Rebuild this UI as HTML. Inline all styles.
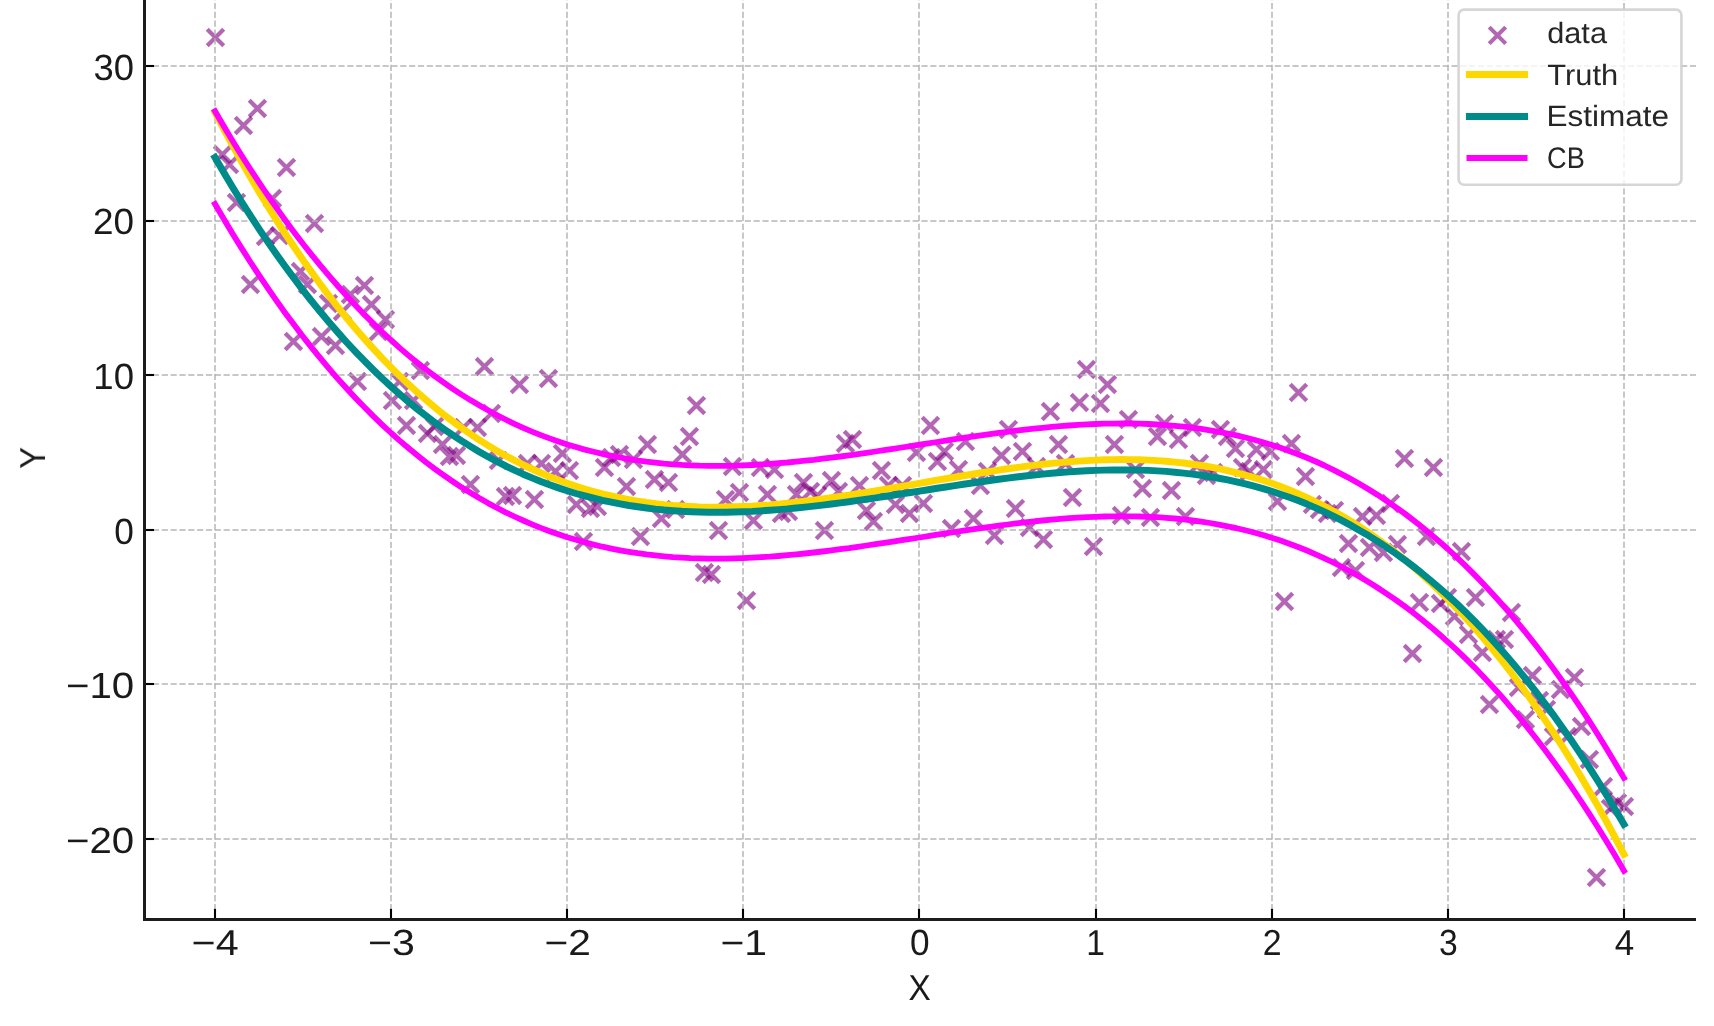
<!DOCTYPE html>
<html lang="en"><head><meta charset="utf-8"><title>Truth, Estimate and CB</title>
<style>html,body{margin:0;padding:0;background:#ffffff;}body{width:1714px;height:1026px;overflow:hidden;}svg{display:block;}text{font-family:"Liberation Sans",sans-serif;text-rendering:geometricPrecision;}</style></head><body>
<svg width="1714" height="1026" viewBox="0 0 1714 1026" role="img" aria-label="Scatter data with Truth, Estimate and CB curves">
<rect x="0" y="0" width="1714" height="1026" fill="#ffffff"/>
<g stroke="#800080" stroke-opacity="0.6" stroke-width="4.17" fill="none" stroke-linecap="butt"><path d="M207.2 29.2l16.5 16.5m0 -16.5l-16.5 16.5"/><path d="M214.2 146.2l16.5 16.5m0 -16.5l-16.5 16.5"/><path d="M221.2 156.2l16.5 16.5m0 -16.5l-16.5 16.5"/><path d="M228.2 194.2l16.5 16.5m0 -16.5l-16.5 16.5"/><path d="M235.2 117.2l16.5 16.5m0 -16.5l-16.5 16.5"/><path d="M242.2 276.2l16.5 16.5m0 -16.5l-16.5 16.5"/><path d="M249.2 100.2l16.5 16.5m0 -16.5l-16.5 16.5"/><path d="M257.2 228.2l16.5 16.5m0 -16.5l-16.5 16.5"/><path d="M264.2 190.2l16.5 16.5m0 -16.5l-16.5 16.5"/><path d="M271.2 227.2l16.5 16.5m0 -16.5l-16.5 16.5"/><path d="M278.2 159.2l16.5 16.5m0 -16.5l-16.5 16.5"/><path d="M285.2 333.2l16.5 16.5m0 -16.5l-16.5 16.5"/><path d="M292.2 263.2l16.5 16.5m0 -16.5l-16.5 16.5"/><path d="M299.2 276.2l16.5 16.5m0 -16.5l-16.5 16.5"/><path d="M306.2 215.2l16.5 16.5m0 -16.5l-16.5 16.5"/><path d="M313.2 328.2l16.5 16.5m0 -16.5l-16.5 16.5"/><path d="M320.2 295.2l16.5 16.5m0 -16.5l-16.5 16.5"/><path d="M327.2 337.2l16.5 16.5m0 -16.5l-16.5 16.5"/><path d="M334.2 303.2l16.5 16.5m0 -16.5l-16.5 16.5"/><path d="M342.2 286.2l16.5 16.5m0 -16.5l-16.5 16.5"/><path d="M349.2 373.2l16.5 16.5m0 -16.5l-16.5 16.5"/><path d="M356.2 277.2l16.5 16.5m0 -16.5l-16.5 16.5"/><path d="M363.2 296.2l16.5 16.5m0 -16.5l-16.5 16.5"/><path d="M370.2 323.2l16.5 16.5m0 -16.5l-16.5 16.5"/><path d="M377.2 311.2l16.5 16.5m0 -16.5l-16.5 16.5"/><path d="M384.2 392.2l16.5 16.5m0 -16.5l-16.5 16.5"/><path d="M391.2 373.2l16.5 16.5m0 -16.5l-16.5 16.5"/><path d="M398.2 417.2l16.5 16.5m0 -16.5l-16.5 16.5"/><path d="M405.2 392.2l16.5 16.5m0 -16.5l-16.5 16.5"/><path d="M412.2 362.2l16.5 16.5m0 -16.5l-16.5 16.5"/><path d="M419.2 425.2l16.5 16.5m0 -16.5l-16.5 16.5"/><path d="M426.2 418.2l16.5 16.5m0 -16.5l-16.5 16.5"/><path d="M434.2 436.2l16.5 16.5m0 -16.5l-16.5 16.5"/><path d="M441.2 448.2l16.5 16.5m0 -16.5l-16.5 16.5"/><path d="M448.2 447.2l16.5 16.5m0 -16.5l-16.5 16.5"/><path d="M455.2 419.2l16.5 16.5m0 -16.5l-16.5 16.5"/><path d="M462.2 476.2l16.5 16.5m0 -16.5l-16.5 16.5"/><path d="M469.2 419.2l16.5 16.5m0 -16.5l-16.5 16.5"/><path d="M476.2 358.2l16.5 16.5m0 -16.5l-16.5 16.5"/><path d="M483.2 405.2l16.5 16.5m0 -16.5l-16.5 16.5"/><path d="M490.2 452.2l16.5 16.5m0 -16.5l-16.5 16.5"/><path d="M497.2 488.2l16.5 16.5m0 -16.5l-16.5 16.5"/><path d="M504.2 487.2l16.5 16.5m0 -16.5l-16.5 16.5"/><path d="M511.2 376.2l16.5 16.5m0 -16.5l-16.5 16.5"/><path d="M519.2 455.2l16.5 16.5m0 -16.5l-16.5 16.5"/><path d="M526.2 491.2l16.5 16.5m0 -16.5l-16.5 16.5"/><path d="M533.2 455.2l16.5 16.5m0 -16.5l-16.5 16.5"/><path d="M540.2 370.2l16.5 16.5m0 -16.5l-16.5 16.5"/><path d="M547.2 463.2l16.5 16.5m0 -16.5l-16.5 16.5"/><path d="M554.2 445.2l16.5 16.5m0 -16.5l-16.5 16.5"/><path d="M561.2 462.2l16.5 16.5m0 -16.5l-16.5 16.5"/><path d="M568.2 496.2l16.5 16.5m0 -16.5l-16.5 16.5"/><path d="M575.2 533.2l16.5 16.5m0 -16.5l-16.5 16.5"/><path d="M582.2 500.2l16.5 16.5m0 -16.5l-16.5 16.5"/><path d="M589.2 498.2l16.5 16.5m0 -16.5l-16.5 16.5"/><path d="M596.2 459.2l16.5 16.5m0 -16.5l-16.5 16.5"/><path d="M603.2 449.2l16.5 16.5m0 -16.5l-16.5 16.5"/><path d="M611.2 446.2l16.5 16.5m0 -16.5l-16.5 16.5"/><path d="M618.2 478.2l16.5 16.5m0 -16.5l-16.5 16.5"/><path d="M625.2 451.2l16.5 16.5m0 -16.5l-16.5 16.5"/><path d="M632.2 528.2l16.5 16.5m0 -16.5l-16.5 16.5"/><path d="M639.2 436.2l16.5 16.5m0 -16.5l-16.5 16.5"/><path d="M646.2 471.2l16.5 16.5m0 -16.5l-16.5 16.5"/><path d="M653.2 510.2l16.5 16.5m0 -16.5l-16.5 16.5"/><path d="M660.2 474.2l16.5 16.5m0 -16.5l-16.5 16.5"/><path d="M667.2 501.2l16.5 16.5m0 -16.5l-16.5 16.5"/><path d="M674.2 446.2l16.5 16.5m0 -16.5l-16.5 16.5"/><path d="M681.2 428.2l16.5 16.5m0 -16.5l-16.5 16.5"/><path d="M688.2 397.2l16.5 16.5m0 -16.5l-16.5 16.5"/><path d="M696.2 564.2l16.5 16.5m0 -16.5l-16.5 16.5"/><path d="M703.2 566.2l16.5 16.5m0 -16.5l-16.5 16.5"/><path d="M710.2 522.2l16.5 16.5m0 -16.5l-16.5 16.5"/><path d="M717.2 491.2l16.5 16.5m0 -16.5l-16.5 16.5"/><path d="M724.2 458.2l16.5 16.5m0 -16.5l-16.5 16.5"/><path d="M731.2 484.2l16.5 16.5m0 -16.5l-16.5 16.5"/><path d="M738.2 592.2l16.5 16.5m0 -16.5l-16.5 16.5"/><path d="M745.2 512.2l16.5 16.5m0 -16.5l-16.5 16.5"/><path d="M752.2 459.2l16.5 16.5m0 -16.5l-16.5 16.5"/><path d="M759.2 486.2l16.5 16.5m0 -16.5l-16.5 16.5"/><path d="M766.2 461.2l16.5 16.5m0 -16.5l-16.5 16.5"/><path d="M773.2 505.2l16.5 16.5m0 -16.5l-16.5 16.5"/><path d="M780.2 503.2l16.5 16.5m0 -16.5l-16.5 16.5"/><path d="M788.2 486.2l16.5 16.5m0 -16.5l-16.5 16.5"/><path d="M795.2 474.2l16.5 16.5m0 -16.5l-16.5 16.5"/><path d="M802.2 483.2l16.5 16.5m0 -16.5l-16.5 16.5"/><path d="M809.2 487.2l16.5 16.5m0 -16.5l-16.5 16.5"/><path d="M816.2 522.2l16.5 16.5m0 -16.5l-16.5 16.5"/><path d="M823.2 472.2l16.5 16.5m0 -16.5l-16.5 16.5"/><path d="M830.2 483.2l16.5 16.5m0 -16.5l-16.5 16.5"/><path d="M837.2 435.2l16.5 16.5m0 -16.5l-16.5 16.5"/><path d="M844.2 431.2l16.5 16.5m0 -16.5l-16.5 16.5"/><path d="M851.2 477.2l16.5 16.5m0 -16.5l-16.5 16.5"/><path d="M858.2 502.2l16.5 16.5m0 -16.5l-16.5 16.5"/><path d="M865.2 513.2l16.5 16.5m0 -16.5l-16.5 16.5"/><path d="M873.2 462.2l16.5 16.5m0 -16.5l-16.5 16.5"/><path d="M880.2 477.2l16.5 16.5m0 -16.5l-16.5 16.5"/><path d="M887.2 496.2l16.5 16.5m0 -16.5l-16.5 16.5"/><path d="M894.2 477.2l16.5 16.5m0 -16.5l-16.5 16.5"/><path d="M901.2 505.2l16.5 16.5m0 -16.5l-16.5 16.5"/><path d="M908.2 444.2l16.5 16.5m0 -16.5l-16.5 16.5"/><path d="M915.2 495.2l16.5 16.5m0 -16.5l-16.5 16.5"/><path d="M922.2 417.2l16.5 16.5m0 -16.5l-16.5 16.5"/><path d="M929.2 453.2l16.5 16.5m0 -16.5l-16.5 16.5"/><path d="M936.2 443.2l16.5 16.5m0 -16.5l-16.5 16.5"/><path d="M943.2 520.2l16.5 16.5m0 -16.5l-16.5 16.5"/><path d="M950.2 461.2l16.5 16.5m0 -16.5l-16.5 16.5"/><path d="M957.2 433.2l16.5 16.5m0 -16.5l-16.5 16.5"/><path d="M965.2 510.2l16.5 16.5m0 -16.5l-16.5 16.5"/><path d="M972.2 477.2l16.5 16.5m0 -16.5l-16.5 16.5"/><path d="M979.2 463.2l16.5 16.5m0 -16.5l-16.5 16.5"/><path d="M986.2 527.2l16.5 16.5m0 -16.5l-16.5 16.5"/><path d="M993.2 447.2l16.5 16.5m0 -16.5l-16.5 16.5"/><path d="M1000.2 421.2l16.5 16.5m0 -16.5l-16.5 16.5"/><path d="M1007.2 500.2l16.5 16.5m0 -16.5l-16.5 16.5"/><path d="M1014.2 443.2l16.5 16.5m0 -16.5l-16.5 16.5"/><path d="M1021.2 519.2l16.5 16.5m0 -16.5l-16.5 16.5"/><path d="M1028.2 458.2l16.5 16.5m0 -16.5l-16.5 16.5"/><path d="M1035.2 531.2l16.5 16.5m0 -16.5l-16.5 16.5"/><path d="M1042.2 403.2l16.5 16.5m0 -16.5l-16.5 16.5"/><path d="M1050.2 436.2l16.5 16.5m0 -16.5l-16.5 16.5"/><path d="M1057.2 455.2l16.5 16.5m0 -16.5l-16.5 16.5"/><path d="M1064.2 489.2l16.5 16.5m0 -16.5l-16.5 16.5"/><path d="M1071.2 394.2l16.5 16.5m0 -16.5l-16.5 16.5"/><path d="M1078.2 361.2l16.5 16.5m0 -16.5l-16.5 16.5"/><path d="M1085.2 538.2l16.5 16.5m0 -16.5l-16.5 16.5"/><path d="M1092.2 395.2l16.5 16.5m0 -16.5l-16.5 16.5"/><path d="M1099.2 376.2l16.5 16.5m0 -16.5l-16.5 16.5"/><path d="M1106.2 436.2l16.5 16.5m0 -16.5l-16.5 16.5"/><path d="M1113.2 507.2l16.5 16.5m0 -16.5l-16.5 16.5"/><path d="M1120.2 411.2l16.5 16.5m0 -16.5l-16.5 16.5"/><path d="M1127.2 461.2l16.5 16.5m0 -16.5l-16.5 16.5"/><path d="M1134.2 480.2l16.5 16.5m0 -16.5l-16.5 16.5"/><path d="M1142.2 509.2l16.5 16.5m0 -16.5l-16.5 16.5"/><path d="M1149.2 428.2l16.5 16.5m0 -16.5l-16.5 16.5"/><path d="M1156.2 415.2l16.5 16.5m0 -16.5l-16.5 16.5"/><path d="M1163.2 482.2l16.5 16.5m0 -16.5l-16.5 16.5"/><path d="M1170.2 431.2l16.5 16.5m0 -16.5l-16.5 16.5"/><path d="M1177.2 508.2l16.5 16.5m0 -16.5l-16.5 16.5"/><path d="M1184.2 419.2l16.5 16.5m0 -16.5l-16.5 16.5"/><path d="M1191.2 455.2l16.5 16.5m0 -16.5l-16.5 16.5"/><path d="M1198.2 467.2l16.5 16.5m0 -16.5l-16.5 16.5"/><path d="M1205.2 464.2l16.5 16.5m0 -16.5l-16.5 16.5"/><path d="M1212.2 421.2l16.5 16.5m0 -16.5l-16.5 16.5"/><path d="M1219.2 428.2l16.5 16.5m0 -16.5l-16.5 16.5"/><path d="M1227.2 440.2l16.5 16.5m0 -16.5l-16.5 16.5"/><path d="M1234.2 459.2l16.5 16.5m0 -16.5l-16.5 16.5"/><path d="M1241.2 463.2l16.5 16.5m0 -16.5l-16.5 16.5"/><path d="M1248.2 441.2l16.5 16.5m0 -16.5l-16.5 16.5"/><path d="M1255.2 461.2l16.5 16.5m0 -16.5l-16.5 16.5"/><path d="M1262.2 443.2l16.5 16.5m0 -16.5l-16.5 16.5"/><path d="M1269.2 493.2l16.5 16.5m0 -16.5l-16.5 16.5"/><path d="M1276.2 593.2l16.5 16.5m0 -16.5l-16.5 16.5"/><path d="M1283.2 435.2l16.5 16.5m0 -16.5l-16.5 16.5"/><path d="M1290.2 384.2l16.5 16.5m0 -16.5l-16.5 16.5"/><path d="M1297.2 468.2l16.5 16.5m0 -16.5l-16.5 16.5"/><path d="M1304.2 496.2l16.5 16.5m0 -16.5l-16.5 16.5"/><path d="M1311.2 501.2l16.5 16.5m0 -16.5l-16.5 16.5"/><path d="M1319.2 505.2l16.5 16.5m0 -16.5l-16.5 16.5"/><path d="M1326.2 502.2l16.5 16.5m0 -16.5l-16.5 16.5"/><path d="M1333.2 559.2l16.5 16.5m0 -16.5l-16.5 16.5"/><path d="M1340.2 535.2l16.5 16.5m0 -16.5l-16.5 16.5"/><path d="M1347.2 562.2l16.5 16.5m0 -16.5l-16.5 16.5"/><path d="M1354.2 508.2l16.5 16.5m0 -16.5l-16.5 16.5"/><path d="M1361.2 539.2l16.5 16.5m0 -16.5l-16.5 16.5"/><path d="M1368.2 507.2l16.5 16.5m0 -16.5l-16.5 16.5"/><path d="M1375.2 544.2l16.5 16.5m0 -16.5l-16.5 16.5"/><path d="M1382.2 495.2l16.5 16.5m0 -16.5l-16.5 16.5"/><path d="M1389.2 536.2l16.5 16.5m0 -16.5l-16.5 16.5"/><path d="M1396.2 450.2l16.5 16.5m0 -16.5l-16.5 16.5"/><path d="M1404.2 645.2l16.5 16.5m0 -16.5l-16.5 16.5"/><path d="M1411.2 594.2l16.5 16.5m0 -16.5l-16.5 16.5"/><path d="M1418.2 528.2l16.5 16.5m0 -16.5l-16.5 16.5"/><path d="M1425.2 459.2l16.5 16.5m0 -16.5l-16.5 16.5"/><path d="M1432.2 595.2l16.5 16.5m0 -16.5l-16.5 16.5"/><path d="M1439.2 589.2l16.5 16.5m0 -16.5l-16.5 16.5"/><path d="M1446.2 608.2l16.5 16.5m0 -16.5l-16.5 16.5"/><path d="M1453.2 543.2l16.5 16.5m0 -16.5l-16.5 16.5"/><path d="M1460.2 626.2l16.5 16.5m0 -16.5l-16.5 16.5"/><path d="M1467.2 589.2l16.5 16.5m0 -16.5l-16.5 16.5"/><path d="M1474.2 644.2l16.5 16.5m0 -16.5l-16.5 16.5"/><path d="M1481.2 696.2l16.5 16.5m0 -16.5l-16.5 16.5"/><path d="M1488.2 631.2l16.5 16.5m0 -16.5l-16.5 16.5"/><path d="M1496.2 631.2l16.5 16.5m0 -16.5l-16.5 16.5"/><path d="M1503.2 604.2l16.5 16.5m0 -16.5l-16.5 16.5"/><path d="M1510.2 679.2l16.5 16.5m0 -16.5l-16.5 16.5"/><path d="M1517.2 711.2l16.5 16.5m0 -16.5l-16.5 16.5"/><path d="M1524.2 667.2l16.5 16.5m0 -16.5l-16.5 16.5"/><path d="M1531.2 692.2l16.5 16.5m0 -16.5l-16.5 16.5"/><path d="M1538.2 701.2l16.5 16.5m0 -16.5l-16.5 16.5"/><path d="M1545.2 728.2l16.5 16.5m0 -16.5l-16.5 16.5"/><path d="M1552.2 681.2l16.5 16.5m0 -16.5l-16.5 16.5"/><path d="M1559.2 728.2l16.5 16.5m0 -16.5l-16.5 16.5"/><path d="M1566.2 669.2l16.5 16.5m0 -16.5l-16.5 16.5"/><path d="M1573.2 718.2l16.5 16.5m0 -16.5l-16.5 16.5"/><path d="M1581.2 751.2l16.5 16.5m0 -16.5l-16.5 16.5"/><path d="M1588.2 869.2l16.5 16.5m0 -16.5l-16.5 16.5"/><path d="M1595.2 778.2l16.5 16.5m0 -16.5l-16.5 16.5"/><path d="M1602.2 800.2l16.5 16.5m0 -16.5l-16.5 16.5"/><path d="M1609.2 794.2l16.5 16.5m0 -16.5l-16.5 16.5"/><path d="M1616.2 798.2l16.5 16.5m0 -16.5l-16.5 16.5"/></g>
<g stroke="#b0b0b0" stroke-opacity="0.7" stroke-width="2.0" stroke-dasharray="6.1667 2.6667" fill="none"><path d="M215.00 918.90V-8"/><path d="M391.00 918.90V-8"/><path d="M567.00 918.90V-8"/><path d="M743.00 918.90V-8"/><path d="M919.00 918.90V-8"/><path d="M1096.00 918.90V-8"/><path d="M1272.00 918.90V-8"/><path d="M1448.00 918.90V-8"/><path d="M1624.00 918.90V-8"/><path d="M144.10 839.00H1696.00"/><path d="M144.10 684.00H1696.00"/><path d="M144.10 530.00H1696.00"/><path d="M144.10 375.00H1696.00"/><path d="M144.10 221.00H1696.00"/><path d="M144.10 66.00H1696.00"/></g>
<polyline points="215.0,112.3 223.8,129.1 232.6,145.4 241.4,161.3 250.2,176.7 259.0,191.7 267.8,206.2 276.6,220.3 285.4,234.0 294.3,247.3 303.1,260.2 311.9,272.6 320.7,284.7 329.5,296.3 338.3,307.6 347.1,318.5 355.9,329.0 364.7,339.1 373.5,348.9 382.3,358.3 391.1,367.4 399.9,376.1 408.7,384.5 417.5,392.5 426.3,400.2 435.1,407.6 443.9,414.7 452.8,421.4 461.6,427.9 470.4,434.0 479.2,439.9 488.0,445.4 496.8,450.7 505.6,455.7 514.4,460.4 523.2,464.8 532.0,469.0 540.8,473.0 549.6,476.7 558.4,480.1 567.2,483.3 576.0,486.3 584.8,489.1 593.6,491.6 602.4,493.9 611.3,496.0 620.1,497.9 628.9,499.6 637.7,501.1 646.5,502.5 655.3,503.6 664.1,504.6 672.9,505.4 681.7,506.0 690.5,506.5 699.3,506.9 708.1,507.1 716.9,507.1 725.7,507.0 734.5,506.8 743.3,506.5 752.1,506.1 760.9,505.5 769.8,504.9 778.6,504.1 787.4,503.3 796.2,502.3 805.0,501.3 813.8,500.2 822.6,499.0 831.4,497.8 840.2,496.5 849.0,495.2 857.8,493.8 866.6,492.4 875.4,490.9 884.2,489.4 893.0,487.9 901.8,486.4 910.6,484.9 919.5,483.3 928.3,481.8 937.1,480.2 945.9,478.7 954.7,477.2 963.5,475.7 972.3,474.3 981.1,472.8 989.9,471.5 998.7,470.1 1007.5,468.8 1016.3,467.6 1025.1,466.4 1033.9,465.4 1042.7,464.3 1051.5,463.4 1060.3,462.6 1069.1,461.8 1078.0,461.1 1086.8,460.6 1095.6,460.1 1104.4,459.8 1113.2,459.6 1122.0,459.5 1130.8,459.6 1139.6,459.8 1148.4,460.1 1157.2,460.6 1166.0,461.3 1174.8,462.1 1183.6,463.0 1192.4,464.2 1201.2,465.5 1210.0,467.0 1218.8,468.7 1227.6,470.6 1236.5,472.8 1245.3,475.1 1254.1,477.6 1262.9,480.3 1271.7,483.3 1280.5,486.5 1289.3,490.0 1298.1,493.7 1306.9,497.6 1315.7,501.8 1324.5,506.3 1333.3,511.0 1342.1,516.0 1350.9,521.2 1359.7,526.8 1368.5,532.6 1377.3,538.8 1386.1,545.2 1395.0,552.0 1403.8,559.0 1412.6,566.4 1421.4,574.1 1430.2,582.2 1439.0,590.5 1447.8,599.3 1456.6,608.3 1465.4,617.7 1474.2,627.5 1483.0,637.7 1491.8,648.2 1500.6,659.1 1509.4,670.3 1518.2,682.0 1527.0,694.0 1535.8,706.5 1544.6,719.4 1553.5,732.6 1562.3,746.3 1571.1,760.4 1579.9,775.0 1588.7,790.0 1597.5,805.4 1606.3,821.2 1615.1,837.5 1623.9,854.3" fill="none" stroke="#ffd700" stroke-width="6.95" stroke-linecap="square" stroke-linejoin="round"/>
<polyline points="215.0,157.6 223.8,172.6 232.6,187.3 241.4,201.5 250.2,215.4 259.0,228.8 267.8,241.9 276.6,254.5 285.4,266.8 294.3,278.7 303.1,290.3 311.9,301.5 320.7,312.3 329.5,322.8 338.3,332.9 347.1,342.7 355.9,352.1 364.7,361.2 373.5,370.0 382.3,378.5 391.1,386.6 399.9,394.4 408.7,402.0 417.5,409.2 426.3,416.1 435.1,422.7 443.9,429.1 452.8,435.1 461.6,440.9 470.4,446.4 479.2,451.7 488.0,456.7 496.8,461.4 505.6,465.9 514.4,470.2 523.2,474.2 532.0,477.9 540.8,481.5 549.6,484.8 558.4,487.9 567.2,490.8 576.0,493.5 584.8,495.9 593.6,498.2 602.4,500.3 611.3,502.2 620.1,503.9 628.9,505.5 637.7,506.8 646.5,508.0 655.3,509.1 664.1,510.0 672.9,510.7 681.7,511.3 690.5,511.7 699.3,512.0 708.1,512.2 716.9,512.3 725.7,512.2 734.5,512.0 743.3,511.7 752.1,511.4 760.9,510.9 769.8,510.3 778.6,509.6 787.4,508.9 796.2,508.0 805.0,507.1 813.8,506.1 822.6,505.1 831.4,504.0 840.2,502.9 849.0,501.7 857.8,500.4 866.6,499.2 875.4,497.9 884.2,496.5 893.0,495.2 901.8,493.8 910.6,492.5 919.5,491.1 928.3,489.7 937.1,488.3 945.9,487.0 954.7,485.6 963.5,484.3 972.3,483.0 981.1,481.7 989.9,480.5 998.7,479.3 1007.5,478.1 1016.3,477.0 1025.1,476.0 1033.9,475.0 1042.7,474.1 1051.5,473.3 1060.3,472.5 1069.1,471.9 1078.0,471.3 1086.8,470.8 1095.6,470.4 1104.4,470.1 1113.2,469.9 1122.0,469.9 1130.8,469.9 1139.6,470.1 1148.4,470.4 1157.2,470.9 1166.0,471.4 1174.8,472.2 1183.6,473.1 1192.4,474.1 1201.2,475.3 1210.0,476.7 1218.8,478.2 1227.6,479.9 1236.5,481.8 1245.3,483.9 1254.1,486.2 1262.9,488.6 1271.7,491.3 1280.5,494.2 1289.3,497.3 1298.1,500.6 1306.9,504.1 1315.7,507.9 1324.5,511.9 1333.3,516.1 1342.1,520.6 1350.9,525.4 1359.7,530.4 1368.5,535.6 1377.3,541.1 1386.1,546.9 1395.0,553.0 1403.8,559.3 1412.6,565.9 1421.4,572.8 1430.2,580.1 1439.0,587.6 1447.8,595.4 1456.6,603.5 1465.4,612.0 1474.2,620.8 1483.0,629.9 1491.8,639.3 1500.6,649.1 1509.4,659.2 1518.2,669.7 1527.0,680.5 1535.8,691.7 1544.6,703.2 1553.5,715.1 1562.3,727.4 1571.1,740.1 1579.9,753.1 1588.7,766.5 1597.5,780.4 1606.3,794.6 1615.1,809.2 1623.9,824.3" fill="none" stroke="#008b8b" stroke-width="6.95" stroke-linecap="square" stroke-linejoin="round"/>
<polyline points="215.0,111.2 223.8,126.3 232.6,140.9 241.4,155.2 250.2,169.0 259.0,182.4 267.8,195.5 276.6,208.2 285.4,220.5 294.3,232.4 303.1,243.9 311.9,255.1 320.7,265.9 329.5,276.4 338.3,286.5 347.1,296.3 355.9,305.7 364.7,314.9 373.5,323.6 382.3,332.1 391.1,340.2 399.9,348.1 408.7,355.6 417.5,362.8 426.3,369.7 435.1,376.4 443.9,382.7 452.8,388.8 461.6,394.6 470.4,400.1 479.2,405.3 488.0,410.3 496.8,415.1 505.6,419.5 514.4,423.8 523.2,427.8 532.0,431.6 540.8,435.1 549.6,438.4 558.4,441.5 567.2,444.4 576.0,447.1 584.8,449.6 593.6,451.8 602.4,453.9 611.3,455.8 620.1,457.5 628.9,459.1 637.7,460.5 646.5,461.7 655.3,462.7 664.1,463.6 672.9,464.3 681.7,464.9 690.5,465.3 699.3,465.7 708.1,465.8 716.9,465.9 725.7,465.8 734.5,465.7 743.3,465.4 752.1,465.0 760.9,464.5 769.8,463.9 778.6,463.2 787.4,462.5 796.2,461.6 805.0,460.7 813.8,459.8 822.6,458.7 831.4,457.6 840.2,456.5 849.0,455.3 857.8,454.1 866.6,452.8 875.4,451.5 884.2,450.2 893.0,448.8 901.8,447.5 910.6,446.1 919.5,444.7 928.3,443.3 937.1,442.0 945.9,440.6 954.7,439.2 963.5,437.9 972.3,436.6 981.1,435.3 989.9,434.1 998.7,432.9 1007.5,431.8 1016.3,430.7 1025.1,429.6 1033.9,428.7 1042.7,427.8 1051.5,426.9 1060.3,426.2 1069.1,425.5 1078.0,424.9 1086.8,424.4 1095.6,424.0 1104.4,423.7 1113.2,423.6 1122.0,423.5 1130.8,423.5 1139.6,423.7 1148.4,424.0 1157.2,424.5 1166.0,425.1 1174.8,425.8 1183.6,426.7 1192.4,427.7 1201.2,428.9 1210.0,430.3 1218.8,431.8 1227.6,433.5 1236.5,435.4 1245.3,437.5 1254.1,439.8 1262.9,442.3 1271.7,444.9 1280.5,447.8 1289.3,450.9 1298.1,454.2 1306.9,457.8 1315.7,461.5 1324.5,465.5 1333.3,469.8 1342.1,474.3 1350.9,479.0 1359.7,484.0 1368.5,489.2 1377.3,494.7 1386.1,500.5 1395.0,506.6 1403.8,512.9 1412.6,519.6 1421.4,526.5 1430.2,533.7 1439.0,541.2 1447.8,549.0 1456.6,557.2 1465.4,565.6 1474.2,574.4 1483.0,583.5 1491.8,592.9 1500.6,602.7 1509.4,612.8 1518.2,623.3 1527.0,634.1 1535.8,645.3 1544.6,656.8 1553.5,668.7 1562.3,681.0 1571.1,693.7 1579.9,706.7 1588.7,720.2 1597.5,734.0 1606.3,748.2 1615.1,762.9 1623.9,777.9" fill="none" stroke="#ff00ff" stroke-width="5.8" stroke-linecap="square" stroke-linejoin="round"/>
<polyline points="215.0,204.0 223.8,219.0 232.6,233.7 241.4,247.9 250.2,261.7 259.0,275.2 267.8,288.2 276.6,300.9 285.4,313.2 294.3,325.1 303.1,336.7 311.9,347.9 320.7,358.7 329.5,369.1 338.3,379.3 347.1,389.0 355.9,398.5 364.7,407.6 373.5,416.4 382.3,424.8 391.1,433.0 399.9,440.8 408.7,448.3 417.5,455.5 426.3,462.5 435.1,469.1 443.9,475.4 452.8,481.5 461.6,487.3 470.4,492.8 479.2,498.1 488.0,503.1 496.8,507.8 505.6,512.3 514.4,516.5 523.2,520.5 532.0,524.3 540.8,527.9 549.6,531.2 558.4,534.3 567.2,537.2 576.0,539.8 584.8,542.3 593.6,544.6 602.4,546.7 611.3,548.6 620.1,550.3 628.9,551.8 637.7,553.2 646.5,554.4 655.3,555.4 664.1,556.3 672.9,557.1 681.7,557.6 690.5,558.1 699.3,558.4 708.1,558.6 716.9,558.6 725.7,558.6 734.5,558.4 743.3,558.1 752.1,557.7 760.9,557.2 769.8,556.7 778.6,556.0 787.4,555.2 796.2,554.4 805.0,553.5 813.8,552.5 822.6,551.5 831.4,550.4 840.2,549.2 849.0,548.1 857.8,546.8 866.6,545.5 875.4,544.2 884.2,542.9 893.0,541.6 901.8,540.2 910.6,538.8 919.5,537.5 928.3,536.1 937.1,534.7 945.9,533.3 954.7,532.0 963.5,530.7 972.3,529.4 981.1,528.1 989.9,526.9 998.7,525.7 1007.5,524.5 1016.3,523.4 1025.1,522.4 1033.9,521.4 1042.7,520.5 1051.5,519.7 1060.3,518.9 1069.1,518.2 1078.0,517.7 1086.8,517.2 1095.6,516.8 1104.4,516.5 1113.2,516.3 1122.0,516.2 1130.8,516.3 1139.6,516.5 1148.4,516.8 1157.2,517.2 1166.0,517.8 1174.8,518.5 1183.6,519.4 1192.4,520.5 1201.2,521.7 1210.0,523.0 1218.8,524.6 1227.6,526.3 1236.5,528.2 1245.3,530.3 1254.1,532.5 1262.9,535.0 1271.7,537.7 1280.5,540.6 1289.3,543.7 1298.1,547.0 1306.9,550.5 1315.7,554.3 1324.5,558.3 1333.3,562.5 1342.1,567.0 1350.9,571.7 1359.7,576.7 1368.5,582.0 1377.3,587.5 1386.1,593.3 1395.0,599.3 1403.8,605.7 1412.6,612.3 1421.4,619.2 1430.2,626.4 1439.0,634.0 1447.8,641.8 1456.6,649.9 1465.4,658.4 1474.2,667.1 1483.0,676.2 1491.8,685.7 1500.6,695.4 1509.4,705.6 1518.2,716.0 1527.0,726.8 1535.8,738.0 1544.6,749.6 1553.5,761.5 1562.3,773.8 1571.1,786.4 1579.9,799.5 1588.7,812.9 1597.5,826.7 1606.3,841.0 1615.1,855.6 1623.9,870.7" fill="none" stroke="#ff00ff" stroke-width="5.8" stroke-linecap="square" stroke-linejoin="round"/>
<g stroke="#000000" stroke-width="2.1" fill="none"><path d="M215.00 919.50V908.85"/><path d="M391.00 919.50V908.85"/><path d="M567.00 919.50V908.85"/><path d="M743.00 919.50V908.85"/><path d="M919.00 919.50V908.85"/><path d="M1096.00 919.50V908.85"/><path d="M1272.00 919.50V908.85"/><path d="M1448.00 919.50V908.85"/><path d="M1624.00 919.50V908.85"/><path d="M144.50 839.00H154.0"/><path d="M144.50 684.00H154.0"/><path d="M144.50 530.00H154.0"/><path d="M144.50 375.00H154.0"/><path d="M144.50 221.00H154.0"/><path d="M144.50 66.00H154.0"/></g>
<path d="M144.50 -5V919.50H1696.00" fill="none" stroke="#1c1c1c" stroke-width="3.0" stroke-linecap="butt" stroke-linejoin="miter"/>
<g><rect x="1458.6" y="9.6" width="222.8" height="175.2" rx="5.5" ry="5.5" fill="#ffffff" fill-opacity="0.8" stroke="#cccccc" stroke-opacity="0.8" stroke-width="2.6"/><path d="M1489.2 27.1l16.5 16.5m0 -16.5l-16.5 16.5" stroke="#800080" stroke-opacity="0.6" stroke-width="4.17" fill="none"/><path d="M1469.4 74.5H1524.6" stroke="#ffd700" stroke-width="6.95" stroke-linecap="square" fill="none"/><path d="M1469.4 116.4H1524.6" stroke="#008b8b" stroke-width="6.95" stroke-linecap="square" fill="none"/><path d="M1469.4 158.0H1524.6" stroke="#ff00ff" stroke-width="5.8" stroke-linecap="square" fill="none"/></g>
<g opacity="0.999"><text transform="translate(191.56,955.30) scale(1.1472,1)" font-size="35.98" fill="#1a1a1a">−4</text><text transform="translate(368.06,955.44) scale(1.1304,1)" font-size="36.40" fill="#1a1a1a">−3</text><text transform="translate(544.52,955.30) scale(1.1247,1)" font-size="36.19" fill="#1a1a1a">−2</text><text transform="translate(720.50,955.30) scale(1.1353,1)" font-size="35.98" fill="#1a1a1a">−1</text><text transform="translate(910.12,955.44) scale(0.9684,1)" font-size="36.40" fill="#1a1a1a">0</text><text transform="translate(1086.30,955.30) scale(0.9318,1)" font-size="35.98" fill="#1a1a1a">1</text><text transform="translate(1262.77,955.30) scale(0.9362,1)" font-size="36.19" fill="#1a1a1a">2</text><text transform="translate(1439.02,955.44) scale(0.9253,1)" font-size="36.40" fill="#1a1a1a">3</text><text transform="translate(1614.78,955.30) scale(0.9724,1)" font-size="35.98" fill="#1a1a1a">4</text><text transform="translate(65.92,852.80) scale(1.1051,1)" font-size="36.40" fill="#1a1a1a">−20</text><text transform="translate(65.92,698.22) scale(1.1051,1)" font-size="36.40" fill="#1a1a1a">−10</text><text transform="translate(114.36,543.64) scale(0.9684,1)" font-size="36.40" fill="#1a1a1a">0</text><text transform="translate(93.36,389.06) scale(1.0052,1)" font-size="36.40" fill="#1a1a1a">10</text><text transform="translate(93.00,234.48) scale(1.0142,1)" font-size="36.40" fill="#1a1a1a">20</text><text transform="translate(93.57,79.90) scale(0.9997,1)" font-size="36.40" fill="#1a1a1a">30</text><text transform="translate(908.53,1000.00) scale(0.9265,1)" font-size="35.98" fill="#1a1a1a">X</text><text transform="translate(45.0,457.9) rotate(-90) translate(-10.90,0.00) scale(0.9079,1)" font-size="35.98" fill="#1a1a1a">Y</text><text transform="translate(1547.19,42.92) scale(1.0492,1)" font-size="29.29" fill="#262626">data</text><text transform="translate(1547.31,85.02) scale(1.0525,1)" font-size="29.29" fill="#262626">Truth</text><text transform="translate(1546.60,125.92) scale(1.0757,1)" font-size="29.29" fill="#262626">Estimate</text><text transform="translate(1547.04,167.52) scale(0.9122,1)" font-size="29.74" fill="#262626">CB</text></g>
</svg></body></html>
